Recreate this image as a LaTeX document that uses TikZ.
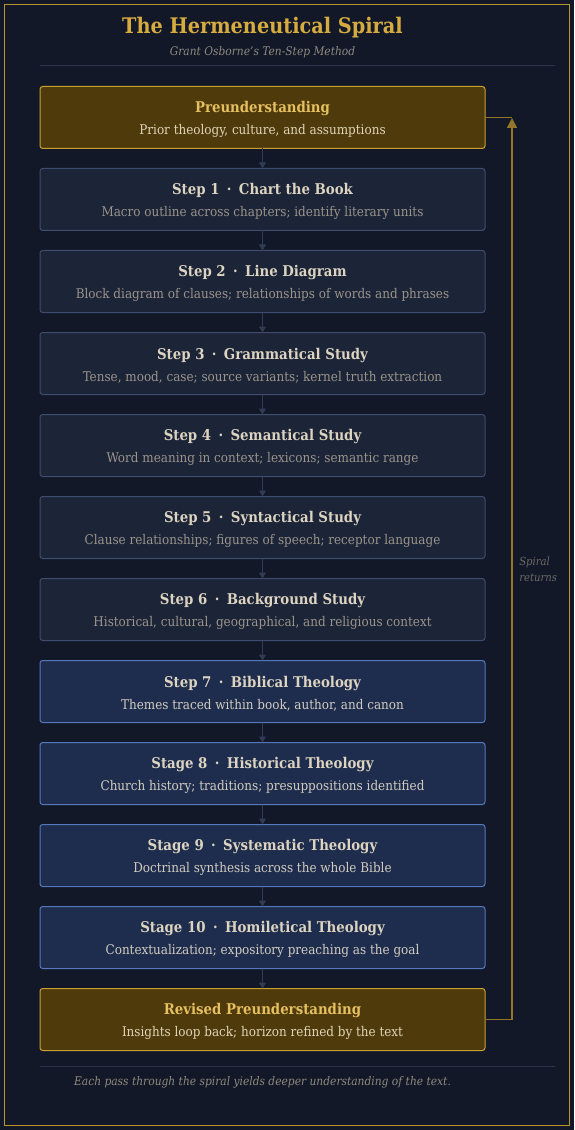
\documentclass[tikz,border=0pt]{standalone}
\usepackage{fontspec}
\setmainfont{DejaVu Serif Condensed}
\usetikzlibrary{positioning,arrows.meta}

\definecolor{bgcol}{HTML}{121827}
\definecolor{framecol}{HTML}{B8952E}
\definecolor{goldtitle}{HTML}{D6AB3F}
\definecolor{subgray}{HTML}{8F8A80}
\definecolor{rulecol}{HTML}{2B3349}
\definecolor{prefill}{HTML}{4E3A0B}
\definecolor{predraw}{HTML}{C9A030}
\definecolor{prehead}{HTML}{E6C060}
\definecolor{pretext}{HTML}{E0D4B8}
\definecolor{stepfill}{HTML}{1C2438}
\definecolor{stepdraw}{HTML}{3E4C6E}
\definecolor{stephead}{HTML}{DCD3C0}
\definecolor{steptext}{HTML}{9A948A}
\definecolor{theofill}{HTML}{1E2D4D}
\definecolor{theodraw}{HTML}{5577BB}
\definecolor{theotext}{HTML}{D2CCC0}
\definecolor{flowcol}{HTML}{303C55}
\definecolor{spiralcol}{HTML}{94762A}
\definecolor{notecol}{HTML}{6B6A66}

\newcommand{\twoline}[3]{{\fontsize{11.1}{16.5}\selectfont\bfseries\color{#1}\rule{0pt}{11.4pt}#2}\\#3}
\newcommand{\sep}{\enspace\textperiodcentered\enspace}

\begin{document}
\begin{tikzpicture}[x=0.75pt,y=-0.75pt,
  node distance=15pt,
  box/.style={rectangle,rounded corners=2pt,line width=0.75pt,outer sep=0pt,minimum width=333.75pt,
    minimum height=46.5pt,align=center,font=\fontsize{10}{16.5}\selectfont},
  prebox/.style={box,fill=prefill,draw=predraw,text=pretext},
  stepbox/.style={box,fill=stepfill,draw=stepdraw,text=steptext},
  theobox/.style={box,fill=theofill,draw=theodraw,text=theotext},
  flow/.style={draw=flowcol,line width=0.75pt,-{Triangle[width=5.25pt,length=4.5pt]}},
  spiral/.style={draw=spiralcol,line width=1.1pt}]

\fill[bgcol] (0,0) rectangle (574,1130);
\draw[framecol,line width=0.9pt] (4.5,4.5) rectangle (569.5,1125.5);

% heading
\node (title) at (262.5,28) {\fontsize{16.1}{19}\selectfont\bfseries\color{goldtitle}The Hermeneutical Spiral};
\node (subtitle) at (262.5,52) {\fontsize{8.9}{10}\selectfont\itshape\color{subgray}Grant Osborne's Ten-Step Method};
\draw[rulecol,line width=0.75pt] (40,66) -- (555,66);

% the ladder
\node (pre) [prebox] at (262.5,117.5) {\twoline{prehead}{Preunderstanding}{Prior theology, culture, and assumptions}};
\node (s1) [stepbox,below=of pre] {\twoline{stephead}{Step 1\sep Chart the Book}{Macro outline across chapters; identify literary units}};
\node (s2) [stepbox,below=of s1] {\twoline{stephead}{Step 2\sep Line Diagram}{Block diagram of clauses; relationships of words and phrases}};
\node (s3) [stepbox,below=of s2] {\twoline{stephead}{Step 3\sep Grammatical Study}{Tense, mood, case; source variants; kernel truth extraction}};
\node (s4) [stepbox,below=of s3] {\twoline{stephead}{Step 4\sep Semantical Study}{Word meaning in context; lexicons; semantic range}};
\node (s5) [stepbox,below=of s4] {\twoline{stephead}{Step 5\sep Syntactical Study}{Clause relationships; figures of speech; receptor language}};
\node (s6) [stepbox,below=of s5] {\twoline{stephead}{Step 6\sep Background Study}{Historical, cultural, geographical, and religious context}};
\node (s7) [theobox,below=of s6] {\twoline{stephead}{Step 7\sep Biblical Theology}{Themes traced within book, author, and canon}};
\node (s8) [theobox,below=of s7] {\twoline{stephead}{Stage 8\sep Historical Theology}{Church history; traditions; presuppositions identified}};
\node (s9) [theobox,below=of s8] {\twoline{stephead}{Stage 9\sep Systematic Theology}{Doctrinal synthesis across the whole Bible}};
\node (s10) [theobox,below=of s9] {\twoline{stephead}{Stage 10\sep Homiletical Theology}{Contextualization; expository preaching as the goal}};
\node (rev) [prebox,below=of s10] {\twoline{prehead}{Revised Preunderstanding}{Insights loop back; horizon refined by the text}};

\foreach \a/\b in {pre/s1,s1/s2,s2/s3,s3/s4,s4/s5,s5/s6,s6/s7,s7/s8,s8/s9,s9/s10,s10/rev}
  \draw[flow] (\a) -- (\b);

% return path
\coordinate (ret) at (512,118);
\draw[spiral] (pre.east) -- (pre.east -| ret);
\draw[spiral,-{Triangle[width=7.5pt,length=7.5pt]}] (rev.east) -| (ret);
\node (retlabel) [anchor=north west,align=left,inner sep=0pt,text=notecol,
  font=\fontsize{8.4}{12}\selectfont\itshape] at (519,557) {Spiral\\returns};

% footer
\draw[rulecol,line width=0.75pt] (40,1066) -- (555,1066);
\node (footer) at (262.5,1082) {\fontsize{8.9}{10}\selectfont\itshape\color{subgray}Each pass through the spiral yields deeper understanding of the text.};
\end{tikzpicture}
\end{document}
